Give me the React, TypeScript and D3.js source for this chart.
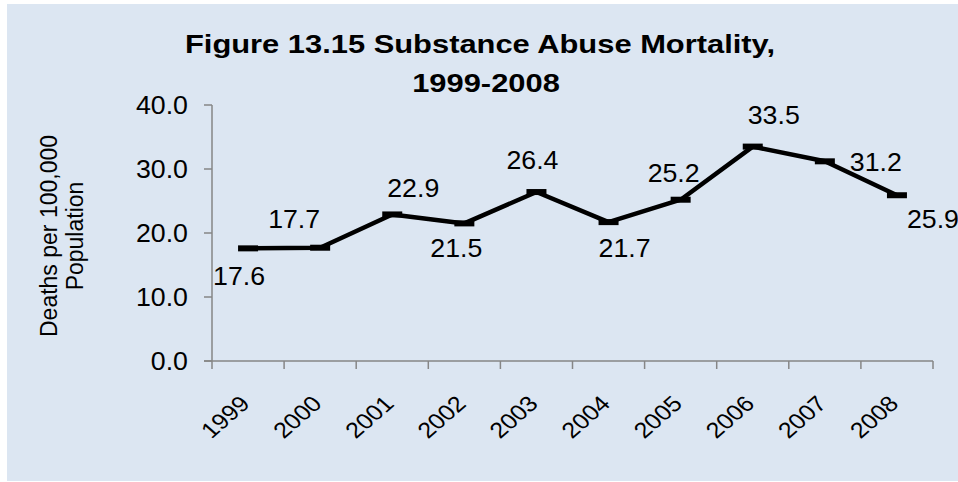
import React from "react";
import * as d3 from "d3";

const years = ["1999", "2000", "2001", "2002", "2003", "2004", "2005", "2006", "2007", "2008"];
const deaths = [17.6, 17.7, 22.9, 21.5, 26.4, 21.7, 25.2, 33.5, 31.2, 25.9];
const yTicks = [0, 10, 20, 30, 40];
const titleLines = ["Figure 13.15 Substance Abuse Mortality,", "1999-2008"];
const yTitleLines = ["Deaths per 100,000", "Population"];

// label placement (layout only): offset of label centre/baseline from its point
const labelOffsets: [number, number][] = [
  [-9, 37], [-26, -20], [21, -17], [-8, 34], [-4, -23],
  [16, 35], [-7, -18], [21, -23], [51, 10], [36, 33],
];

const W = 958;
const H = 482;
const plot = { left: 212, right: 933, top: 105, bottom: 361 };
const AXIS = "#868686";
const FONT = "Arial, 'Liberation Sans', sans-serif";

function SText({ x, y, sx = 1, rotate = 0, anchor = "middle", size, weight = "normal", children }: any) {
  return (
    <text
      transform={`translate(${x},${y}) scale(${sx},1) rotate(${rotate})`}
      textAnchor={anchor}
      fontSize={size}
      fontWeight={weight}
      fontFamily={FONT}
      fill="#000"
    >
      {children}
    </text>
  );
}

export default function App() {
  const x = d3.scaleBand<string>().domain(years).range([plot.left, plot.right]);
  const y = d3.scaleLinear().domain([0, 40]).range([plot.bottom, plot.top]);
  const cx = (d: string) => (x(d) as number) + x.bandwidth() / 2;
  const line = d3
    .line<number>()
    .x((_, i) => cx(years[i]))
    .y((v) => y(v));
  const boundaries = years.map((d) => x(d) as number).concat([plot.right]);

  return (
    <svg
      width={W}
      height={H}
      style={{ position: "absolute", left: 0, top: 0, display: "block" }}
    >
      <rect x={7} y={4} width={W - 7} height={H - 5} fill="#DCE6F2" />

      {/* title */}
      <SText x={480} y={53} sx={1.188} size={26} weight="bold">{titleLines[0]}</SText>
      <SText x={486} y={92} sx={1.188} size={26} weight="bold">{titleLines[1]}</SText>

      {/* y axis title */}
      <g transform={`translate(57,236) rotate(-90)`}>
        <text textAnchor="middle" fontSize={23} fontFamily={FONT}>{yTitleLines[0]}</text>
      </g>
      <g transform={`translate(83,236) rotate(-90)`}>
        <text textAnchor="middle" fontSize={23} fontFamily={FONT}>{yTitleLines[1]}</text>
      </g>

      {/* y axis */}
      <line x1={plot.left} x2={plot.left} y1={plot.top} y2={plot.bottom} stroke={AXIS} strokeWidth={1.5} />
      {yTicks.map((t) => (
        <g key={t}>
          <line x1={plot.left - 8} x2={plot.left} y1={y(t)} y2={y(t)} stroke={AXIS} strokeWidth={1.5} />
          <SText x={188} y={y(t) + 9} sx={1.07} size={25} anchor="end">{t.toFixed(1)}</SText>
        </g>
      ))}

      {/* x axis */}
      <line x1={plot.left - 8} x2={plot.right} y1={plot.bottom} y2={plot.bottom} stroke={AXIS} strokeWidth={1.5} />
      {boundaries.map((b, i) => (
        <line key={i} x1={b} x2={b} y1={plot.bottom} y2={plot.bottom + 8} stroke={AXIS} strokeWidth={1.5} />
      ))}
      {years.map((d) => (
        <SText key={d} x={cx(d) + 3} y={405} sx={1.14} size={22} rotate={-45} anchor="end">{d}</SText>
      ))}

      {/* series */}
      <path d={line(deaths) || ""} fill="none" stroke="#000" strokeWidth={4.5} strokeLinejoin="round" />
      {deaths.map((v, i) => (
        <rect key={i} x={cx(years[i]) - 10} y={y(v) - 3} width={20} height={6} fill="#000" />
      ))}
      {deaths.map((v, i) => (
        <SText
          key={"l" + i}
          x={cx(years[i]) + labelOffsets[i][0]}
          y={y(v) + labelOffsets[i][1]}
          sx={1.07}
          size={25}
        >
          {v.toFixed(1)}
        </SText>
      ))}
    </svg>
  );
}
